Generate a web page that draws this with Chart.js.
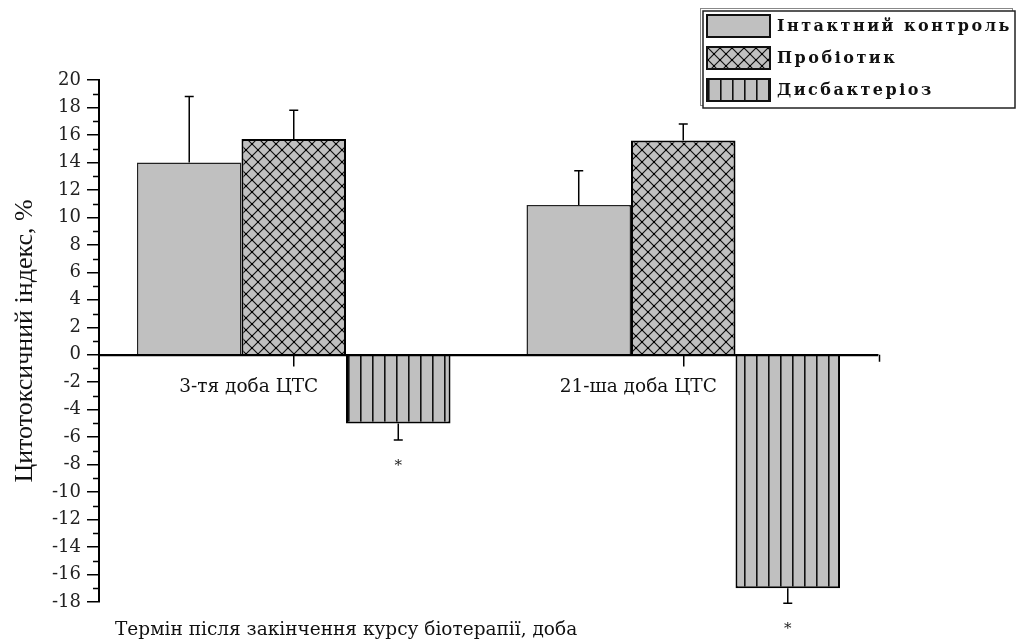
<!DOCTYPE html>
<html>
<head>
<meta charset="utf-8">
<script src="https://cdn.jsdelivr.net/npm/chart.js@4.4.1/dist/chart.umd.min.js"></script>
<style>
  html, body { margin: 0; padding: 0; background: #fff; }
  #wrap { width: 1019px; height: 642px; }
</style>
</head>
<body>
<div id="wrap"><canvas id="chart" width="1019" height="642"></canvas></div>
<script>
'use strict';

// ── Data ──────────────────────────────────────────────────────────────────────

const categories = ['3-тя доба ЦТС', '21-ша доба ЦТС'];
const seriesNames = ['Інтактний контроль', 'Пробіотик', 'Дисбактеріоз'];

const intactMeans = [14.0, 10.9];
const intactErr = [4.8, 2.5];
const probioticMeans = [15.7, 15.6];
const probioticErr = [2.1, 1.2];
const dysMeans = [-5.0, -17.0];
const dysErr = [1.2, 1.1];
const dysMarks = ['*', '*'];

const yTicksMin = -18;
const yTicksMax = 20;
const yStep = 2;

const yTitle = 'Цитотоксичний індекс, %';
const xTitle = 'Термін після закінчення курсу біотерапії, доба';

// ── Patterns ──────────────────────────────────────────────────────────────────

const GREY = '#c0c0c0';

function crossPattern() {
  const p = 12;
  const c = document.createElement('canvas');
  c.width = p; c.height = p;
  const g = c.getContext('2d');
  g.fillStyle = GREY;
  g.fillRect(0, 0, p, p);
  g.strokeStyle = '#111';
  g.lineWidth = 1.2;
  g.beginPath();
  g.moveTo(-2, -2); g.lineTo(p + 2, p + 2);
  g.moveTo(p + 2, -2); g.lineTo(-2, p + 2);
  g.stroke();
  g.fillStyle = '#000';
  g.fillRect(p / 2 - 1, p / 2 - 1, 2, 2);
  g.fillRect(-1, -1, 2, 2); g.fillRect(p - 1, -1, 2, 2);
  g.fillRect(-1, p - 1, 2, 2); g.fillRect(p - 1, p - 1, 2, 2);
  return g.createPattern(c, 'repeat');
}

function stripePattern() {
  const p = 12;
  const c = document.createElement('canvas');
  c.width = p; c.height = p;
  const g = c.getContext('2d');
  g.fillStyle = GREY;
  g.fillRect(0, 0, p, p);
  g.fillStyle = '#111';
  g.fillRect(0, 0, 1, p);
  g.fillStyle = 'rgba(0,0,0,0.55)';
  g.fillRect(1, 0, 1, p);
  return g.createPattern(c, 'repeat');
}

const crossFill = crossPattern();
const stripeFill = stripePattern();

// ── Plugins ───────────────────────────────────────────────────────────────────

const errorBars = {
  id: 'errorBars',
  afterDatasetsDraw(chart) {
    const { ctx } = chart;
    const y = chart.scales.y;
    ctx.save();
    ctx.strokeStyle = '#000';
    ctx.lineWidth = 1.5;
    chart.data.datasets.forEach((ds, di) => {
      const meta = chart.getDatasetMeta(di);
      meta.data.forEach((bar, i) => {
        const v = ds.data[i];
        const e = ds.errors[i];
        const end = v >= 0 ? v + e : v - e;
        const yb = y.getPixelForValue(v);
        const ye = y.getPixelForValue(end);
        ctx.beginPath();
        ctx.moveTo(bar.x, yb);
        ctx.lineTo(bar.x, ye);
        ctx.moveTo(bar.x - 4.5, ye);
        ctx.lineTo(bar.x + 4.5, ye);
        ctx.stroke();
        if (ds.marks && ds.marks[i]) {
          ctx.fillStyle = '#222';
          ctx.font = '15px "DejaVu Serif"';
          ctx.textAlign = 'center';
          ctx.textBaseline = 'middle';
          ctx.fillText(ds.marks[i], bar.x, ye + 26);
        }
      });
    });
    // redraw the zero line over the bar bases
    const zero = Math.round(y.getPixelForValue(0)) + 0.5;
    ctx.lineWidth = 1.5;
    ctx.beginPath();
    ctx.moveTo(chart.chartArea.left, zero);
    ctx.lineTo(chart.chartArea.right, zero);
    ctx.stroke();
    ctx.restore();
  },
};

const decorations = {
  id: 'decorations',
  afterDraw(chart) {
    const { ctx, chartArea } = chart;
    const y = chart.scales.y;
    ctx.save();

    // minor y ticks
    ctx.strokeStyle = '#000';
    ctx.lineWidth = 1.5;
    ctx.beginPath();
    for (let v = yTicksMin + 1; v < yTicksMax; v += yStep) {
      const py = Math.round(y.getPixelForValue(v)) + 0.5;
      ctx.moveTo(chartArea.left - 6, py);
      ctx.lineTo(chartArea.left, py);
    }
    // small tick at the right end of the x axis
    const zero = y.getPixelForValue(0);
    ctx.moveTo(chartArea.right + 1.5, zero);
    ctx.lineTo(chartArea.right + 1.5, zero + 7);
    ctx.stroke();

    // axis titles
    ctx.fillStyle = '#111';
    ctx.font = '26px "Liberation Serif"';
    ctx.textAlign = 'center';
    ctx.textBaseline = 'middle';
    ctx.translate(chartArea.left - 74, (chartArea.top + chartArea.bottom) / 2);
    ctx.rotate(-Math.PI / 2);
    ctx.fillText(yTitle, 0, 0);
    ctx.setTransform(1, 0, 0, 1, 0, 0);

    ctx.font = '18.5px "DejaVu Serif"';
    ctx.textAlign = 'left';
    ctx.fillText(xTitle, chartArea.left + 16, chartArea.bottom + 28);

    // legend box (with offset shadow frame)
    const lx = 700, ly = 8, lw = 312, lh = 97;
    ctx.strokeStyle = '#888';
    ctx.lineWidth = 1;
    ctx.strokeRect(lx + 0.5, ly + 0.5, lw, lh);
    ctx.fillStyle = '#fff';
    ctx.fillRect(lx + 3, ly + 3, lw, lh);
    ctx.strokeStyle = '#222';
    ctx.lineWidth = 1.5;
    ctx.strokeRect(lx + 3, ly + 3, lw, lh);

    chart.data.datasets.forEach((ds, i) => {
      const sy = 15 + i * 32;
      ctx.fillStyle = ds.backgroundColor;
      ctx.fillRect(707, sy, 63, 22);
      ctx.strokeStyle = '#111';
      ctx.lineWidth = 2;
      ctx.strokeRect(707, sy, 63, 22);
      ctx.fillStyle = '#111';
      ctx.font = 'bold 16px "DejaVu Serif"';
      ctx.letterSpacing = '2.5px';
      ctx.textAlign = 'left';
      ctx.textBaseline = 'middle';
      ctx.fillText(ds.label, 777, sy + 12);
      ctx.letterSpacing = '0px';
    });

    ctx.restore();
  },
};

// ── Chart ─────────────────────────────────────────────────────────────────────

const ctx = document.getElementById('chart').getContext('2d');

new Chart(ctx, {
  type: 'bar',
  data: {
    labels: categories,
    datasets: [
      {
        label: seriesNames[0],
        data: intactMeans,
        errors: intactErr,
        backgroundColor: GREY,
        borderColor: '#222',
        borderWidth: 1.5,
        borderSkipped: 'start',
      },
      {
        label: seriesNames[1],
        data: probioticMeans,
        errors: probioticErr,
        backgroundColor: crossFill,
        borderColor: '#000',
        borderWidth: 2,
        borderSkipped: 'start',
      },
      {
        label: seriesNames[2],
        data: dysMeans,
        errors: dysErr,
        marks: dysMarks,
        backgroundColor: stripeFill,
        borderColor: '#000',
        borderWidth: 2,
        borderSkipped: 'start',
      },
    ],
  },
  options: {
    responsive: false,
    animation: false,
    events: [],
    layout: { padding: { top: 80, right: 141, bottom: 40, left: 0 } },
    datasets: { bar: { barPercentage: 1, categoryPercentage: 0.805 } },
    plugins: {
      legend: { display: false },
      tooltip: { enabled: false },
    },
    scales: {
      x: {
        position: { y: 0 },
        afterFit: s => { s.height = 0; },
        grid: {
          offset: false,
          drawOnChartArea: false,
          tickLength: 11,
          color: '#000',
          lineWidth: 1.5,
        },
        border: { display: true, color: '#000', width: 1.5 },
        ticks: {
          color: '#111',
          font: { family: 'DejaVu Serif', size: 18.5 },
          labelOffset: -45,
          padding: 10,
          maxRotation: 0,
        },
      },
      y: {
        min: yTicksMin,
        max: yTicksMax,
        afterFit: s => { s.width = 99; },
        grid: {
          drawOnChartArea: false,
          tickLength: 12,
          color: '#000',
          lineWidth: 1.5,
        },
        border: { display: true, color: '#000', width: 2 },
        ticks: {
          stepSize: yStep,
          color: '#222',
          font: { family: 'DejaVu Serif', size: 18 },
          padding: 6,
        },
      },
    },
  },
  plugins: [errorBars, decorations],
});
</script>
</body>
</html>
